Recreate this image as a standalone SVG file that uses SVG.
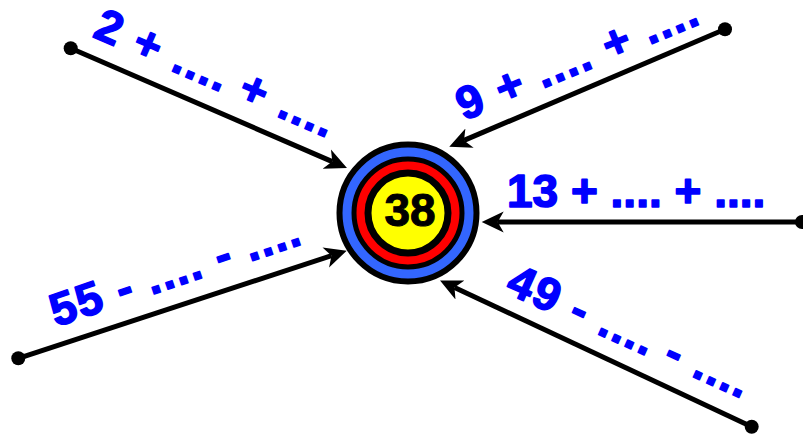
<svg xmlns="http://www.w3.org/2000/svg" width="803" height="435" viewBox="0 0 803 435">
<defs>
<style>
.lbl{font-family:"Liberation Sans",Arial,sans-serif;font-weight:bold;font-size:46px;fill:#0000ff;stroke:#0000ff;stroke-width:1.6px;stroke-linejoin:round;letter-spacing:1.7px}
.conn{stroke:#000;stroke-width:5;fill:none;marker-end:url(#ah)}
.dot{fill:#000}
</style>
<marker id="ah" markerUnits="userSpaceOnUse" markerWidth="26" markerHeight="26" viewBox="0 -13 26 26" refX="6" refY="0" orient="auto">
<path d="M0,-10.5 L22,0 L0,10.5 L6,0 Z" fill="#000"/>
</marker>
</defs>
<rect width="803" height="435" fill="#fff"/>
<g id="connectors">
<line class="conn" x1="70.7" y1="48.3" x2="332.3" y2="161.6"/>
<line class="conn" x1="725" y1="29.3" x2="464.0" y2="140.4"/>
<line class="conn" x1="802" y1="222" x2="497.7" y2="222"/>
<line class="conn" x1="18.3" y1="358.3" x2="331.5" y2="255.7"/>
<line class="conn" x1="751.7" y1="426.7" x2="454.5" y2="287.4"/>
<circle class="dot" cx="70.7" cy="48.3" r="7"/>
<circle class="dot" cx="725" cy="29.3" r="7"/>
<circle class="dot" cx="802" cy="222" r="7"/>
<circle class="dot" cx="18.3" cy="358.3" r="7"/>
<circle class="dot" cx="751.7" cy="426.7" r="7"/>
</g>
<g id="target">
<circle cx="408" cy="213" r="68.5" fill="#3366ff" stroke="#000" stroke-width="6"/>
<circle cx="408" cy="213" r="54" fill="#ff0000" stroke="#000" stroke-width="5"/>
<circle cx="408" cy="213" r="40" fill="#ffff00" stroke="#000" stroke-width="7"/>
<text x="410" y="226" text-anchor="middle" style="font-family:'Liberation Sans',Arial,sans-serif;font-weight:bold;font-size:46px;fill:#000;stroke:#000;stroke-width:1px">38</text>
</g>
<g id="label1"><text class="lbl" transform="translate(91.5,36.5) rotate(23.3)">2 + .... + ....</text></g>
<g id="label2"><text class="lbl" transform="translate(464,121) rotate(-22.3)">9 + .... + ....</text></g>
<g id="label3"><text class="lbl" style="letter-spacing:0" x="507" y="207">13 + .... + ....</text></g>
<g id="label4"><text class="lbl" transform="translate(56,327) rotate(-18.6)">55 - .... - ....</text></g>
<g id="label5"><text class="lbl" transform="translate(504,292) rotate(24.2)">49 - .... - ....</text></g>
</svg>
